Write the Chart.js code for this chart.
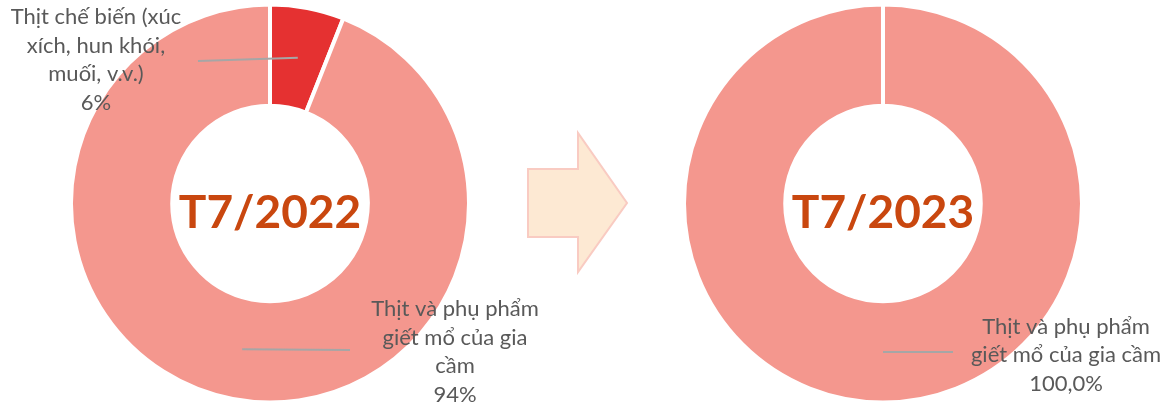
<!DOCTYPE html>
<html>
<head>
<meta charset="utf-8">
<script src="https://cdn.jsdelivr.net/npm/chart.js@4.4.0/dist/chart.umd.min.js"></script>
<style>
  body { margin: 0; background: #fff; }
  #wrap { position: relative; width: 1163px; height: 407px; overflow: hidden; }
  #c2022 { position: absolute; left: 0; top: 0; }
  #c2023 { position: absolute; left: 600px; top: 0; }
  #arrow { position: absolute; left: 0; top: 0; }
</style>
</head>
<body>
<div id="wrap">
  <svg id="arrow" width="1163" height="407">
    <polygon points="528,169 578,169 578,133 627,203 578,272 578,237 528,237"
             fill="#FDE9D3" stroke="#F9CBC2" stroke-width="2"/>
  </svg>
  <canvas id="c2022" width="540" height="407"></canvas>
  <canvas id="c2023" width="563" height="407"></canvas>
</div>
<script>
// dữ liệu
const periods = ['T7/2022', 'T7/2023'];
const labels2022 = [
  ['Thịt chế biến (xúc', 'xích, hun khói,', 'muối, v.v.)'],
  ['Thịt và phụ phẩm', 'giết mổ của gia', 'cầm']
];
const values2022 = [6, 94];
const labels2023 = [
  ['Thịt và phụ phẩm', 'giết mổ của gia cầm']
];
const values2023 = [100];

const colors2022 = ['#E53131', '#F4978E'];
const colors2023 = ['#F4978E'];

// vẽ nhãn + đường dẫn
const labelPlugin = {
  id: 'donutLabels',
  afterDatasetsDraw(chart, args, opts) {
    const ctx = chart.ctx;
    const meta = chart.getDatasetMeta(0);
    const ds = chart.data.datasets[0];
    const total = ds.data.reduce((a, b) => a + b, 0);
    ctx.save();
    meta.data.forEach((arc, i) => {
      const pos = opts.pos[i];
      const mid = (arc.startAngle + arc.endAngle) / 2;
      const r = (arc.innerRadius + arc.outerRadius) / 2;
      const px = arc.x + Math.cos(mid) * r;
      const py = arc.y + Math.sin(mid) * r;
      ctx.strokeStyle = '#A6A6A6';
      ctx.lineWidth = 2;
      ctx.beginPath();
      ctx.moveTo(px, py);
      ctx.lineTo(pos.lx, pos.ly);
      ctx.stroke();

      const lines = chart.data.labels[i].slice();
      const pct = (ds.data[i] / total * 100).toFixed(opts.decimals).replace('.', ',') + '%';
      lines.push(pct);
      ctx.font = '22px Lato';
      ctx.fillStyle = '#595959';
      ctx.textAlign = 'center';
      ctx.textBaseline = 'middle';
      const lh = 28.5;
      const y0 = pos.y - (lines.length - 1) * lh / 2;
      lines.forEach((t, k) => ctx.fillText(t, pos.x, y0 + k * lh));
    });
    // chữ giữa
    const a = meta.data[0];
    ctx.font = 'bold 46px Lato';
    ctx.fillStyle = '#C9470F';
    ctx.textAlign = 'center';
    ctx.textBaseline = 'alphabetic';
    ctx.fillText(opts.center, a.x, a.y + 24);
    ctx.restore();
  }
};

function makeDonut(id, labels, values, colors, center, pos, decimals, padLeft) {
  new Chart(document.getElementById(id), {
    type: 'doughnut',
    data: {
      labels: labels,
      datasets: [{
        data: values,
        backgroundColor: colors,
        borderColor: '#ffffff',
        borderWidth: 4
      }]
    },
    options: {
      responsive: false,
      animation: false,
      radius: 199,
      cutout: 99,
      layout: { padding: { left: padLeft } },
      plugins: {
        legend: { display: false },
        tooltip: { enabled: false },
        donutLabels: { center: center, pos: pos, decimals: decimals }
      }
    },
    plugins: [labelPlugin]
  });
}

makeDonut('c2022', labels2022, values2022, colors2022, periods[0], [
  { x: 96, y: 60, lx: 198, ly: 61 },
  { x: 455, y: 352, lx: 350, ly: 350 }
], 0, 0);

makeDonut('c2023', labels2023, values2023, colors2023, periods[1], [
  { x: 466, y: 355, lx: 353, ly: 352 }
], 1, 3);
</script>
</body>
</html>
